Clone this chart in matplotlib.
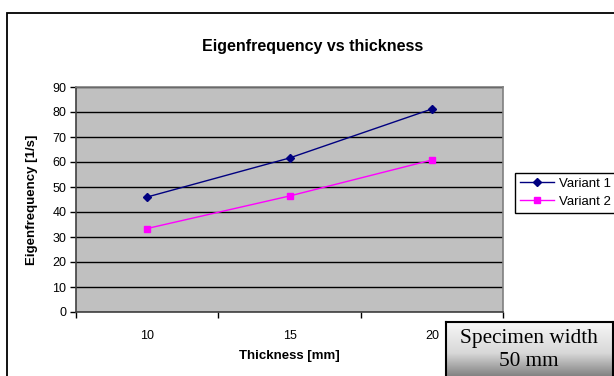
import matplotlib
matplotlib.use("Agg")
import matplotlib.pyplot as plt
import numpy as np
from matplotlib.patches import Rectangle

plt.rcParams['font.family'] = ['Liberation Sans', 'DejaVu Sans']

categories = ["10", "15", "20"]
variant1 = [46.0, 61.6, 81.2]
variant2 = [33.4, 46.4, 60.8]
yticks = [0, 10, 20, 30, 40, 50, 60, 70, 80, 90]

W, H = 614, 376
fig = plt.figure(figsize=(W / 100, H / 100), dpi=100)
fig.patch.set_facecolor('white')

# outer chart frame
fig.patches.append(Rectangle((7 / W, -0.1), 1.2, 1 - 13 / H + 0.1, transform=fig.transFigure,
                             fill=False, edgecolor='black', linewidth=1.3))

L, R, T, B = 76, 503, 87, 312
ax = fig.add_axes([L / W, 1 - B / H, (R - L) / W, (B - T) / H])
ax.set_facecolor('#C0C0C0')
x = np.arange(len(categories))
ax.plot(x, variant1, color='#000080', marker='D', markersize=4.5, linewidth=1, label='Variant 1')
ax.plot(x, variant2, color='#FF00FF', marker='s', markersize=4.5, linewidth=1, label='Variant 2')
ax.set_xlim(-0.5, len(categories) - 0.5)
ax.set_ylim(0, 90)
ax.set_yticks(yticks)
ax.set_yticklabels([str(v) for v in yticks], fontsize=9)
ax.set_xticks(np.arange(len(categories) + 1) - 0.5)
ax.set_xticklabels([])
ax.set_xticks(x, minor=True)
ax.set_xticklabels(categories, minor=True, fontsize=9)
ax.tick_params(axis='x', which='minor', length=0, pad=13)
ax.tick_params(axis='x', which='major', length=4, width=1, color='black', direction='out')
ax.tick_params(axis='y', length=4, width=1, color='black', direction='out', pad=3)
ax.grid(axis='y', color='black', linewidth=1)
ax.set_axisbelow(True)
for s in ['top', 'right']:
    ax.spines[s].set_color('#808080')
    ax.spines[s].set_linewidth(1.2)
for s in ['left', 'bottom']:
    ax.spines[s].set_color('#404040')
    ax.spines[s].set_linewidth(1.2)

ax.set_xlabel('Thickness [mm]', fontsize=9.5, fontweight='bold', labelpad=6)
ax.set_ylabel('Eigenfrequency [1/s]', fontsize=9.5, fontweight='bold', labelpad=10)
fig.text(313 / W, 1 - 47 / H, 'Eigenfrequency vs thickness', ha='center', va='center',
         fontsize=11.5, fontweight='bold')

leg = fig.legend(loc='upper left', bbox_to_anchor=(515 / W, 1 - 173 / H), fontsize=9.5,
                 frameon=True, fancybox=False, edgecolor='black', framealpha=1,
                 handlelength=2.6, handletextpad=0.4, borderpad=0.35, labelspacing=0.45,
                 borderaxespad=0)
leg.get_frame().set_linewidth(1)

# text box with gradient
bx = fig.add_axes([446 / W, -0.02, (613 - 446) / W, (376 - 322) / H + 0.02])
grad = np.linspace(0, 1, 100).reshape(-1, 1)
bx.imshow(grad, aspect='auto', cmap=matplotlib.colors.LinearSegmentedColormap.from_list(
    'g', ['#f6f6f6', '#d8d8d8', '#666666']), extent=[0, 1, 0, 1], origin='upper')
bx.set_xlim(0, 1)
bx.set_ylim(0, 1)
bx.set_xticks([])
bx.set_yticks([])
for s in bx.spines.values():
    s.set_color('black')
    s.set_linewidth(1.5)
fig.text(529 / W, 1 - 338 / H, 'Specimen width', ha='center', va='center',
         fontsize=15.3, family=['Liberation Serif', 'DejaVu Serif'])
fig.text(529 / W, 1 - 362 / H, '50 mm', ha='center', va='center',
         fontsize=15.3, family=['Liberation Serif', 'DejaVu Serif'])

fig.savefig('out.png', dpi=100)
